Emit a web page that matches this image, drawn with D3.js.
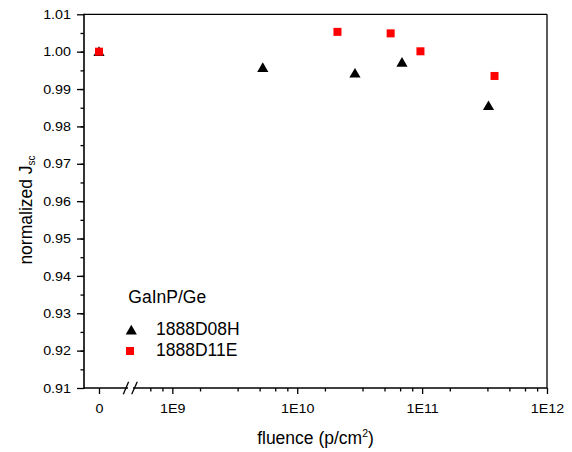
<!DOCTYPE html>
<html><head><meta charset="utf-8">
<script src="https://cdn.jsdelivr.net/npm/d3@7/dist/d3.min.js"></script>
<style>
body{margin:0;background:#fff;}
text{font-family:"Liberation Sans",Arial,sans-serif;fill:#000;}
</style></head>
<body>
<svg id="chart" width="572" height="452"></svg>
<script>
// ---- data ----
const seriesNames = ["1888D08H", "1888D11E"];
const legendTitle = "GaInP/Ge";
const fluenceD08H = [0, 5.3e9, 2.9e10, 6.9e10, 3.4e11];
const jscD08H     = [1.000, 0.9957, 0.9942, 0.9971, 0.9855];
const fluenceD11E = [0, 2.1e10, 5.6e10, 9.7e10, 3.8e11];
const jscD11E     = [1.000, 1.0053, 1.0049, 1.0001, 0.9935];
const yTicks = [0.91,0.92,0.93,0.94,0.95,0.96,0.97,0.98,0.99,1.00,1.01];
const xLogTicks = [1e9, 1e10, 1e11, 1e12];
const xZeroTicks = [0];
const xTickLabels = ["1E9", "1E10", "1E11", "1E12"];

// ---- layout ----
const L = 84, R = 547, T = 14.3, B = 388;
const brk0 = 128, brk1 = 133;
const SX = 1.1; // horizontal stretch of tick labels
const svg = d3.select("#chart");

const y = d3.scaleLinear().domain([0.91, 1.01]).range([B, T]);
const xLin = d3.scaleLinear().domain([-1, 2]).range([L, L + 45]);
const logStart = 10 ** (9 - (172.3 - brk1 + 0.5) / 124.8);
const xLog = d3.scaleLog().domain([logStart, 1e12]).range([brk1 - 0.5, R]);
const xPos = v => v <= 0 ? xLin(v) : xLog(v);

// y minor ticks
const yMinor = d3.range(0, 20).map(i => 0.915 + i * 0.005).filter(v => v < 1.01);
svg.append("g").attr("transform", `translate(${L},0)`)
  .call(d3.axisLeft(y).tickValues(yMinor).tickSize(3.5).tickFormat(""))
  .call(g => g.select(".domain").remove())
  .selectAll("line").attr("stroke-width", 1.3);
const gy = svg.append("g").attr("transform", `translate(${L},0)`)
  .call(d3.axisLeft(y).tickValues(yTicks).tickSize(7).tickPadding(6).tickFormat(d3.format(".2f")))
  .call(g => g.select(".domain").remove());
gy.selectAll("line").attr("stroke-width", 1.3);
gy.selectAll("text").attr("font-size", 13).attr("font-family", "Liberation Sans")
  .attr("x", -13 / SX).attr("transform", `scale(${SX},1)`);

// x minor ticks (Origin style, 5 linear minors per decade)
const xMinor = [];
for (let e = 8; e < 12; e++) for (let k = 1; k <= 5; k++) {
  const v = 10 ** e * k * 10 / 6;
  if (v > 6e8 && v < 1e12) xMinor.push(v);
}
svg.append("g").attr("transform", `translate(0,${B})`)
  .call(d3.axisBottom(xLog).tickValues(xMinor).tickSize(3.5).tickFormat(""))
  .call(g => g.select(".domain").remove())
  .selectAll("line").attr("stroke-width", 1.3);
const gx = svg.append("g").attr("transform", `translate(0,${B})`)
  .call(d3.axisBottom(xLog).tickValues(xLogTicks).tickSize(6).tickPadding(9.5)
    .tickFormat((d, i) => xTickLabels[i]))
  .call(g => g.select(".domain").remove());
const gx0 = svg.append("g").attr("transform", `translate(0,${B})`)
  .call(d3.axisBottom(xLin).tickValues(xZeroTicks).tickSize(6).tickPadding(9.5).tickFormat(d3.format("d")))
  .call(g => g.select(".domain").remove());
[gx, gx0].forEach(g => {
  g.selectAll("line").attr("stroke-width", 1.3);
  g.selectAll("text").attr("font-size", 13).attr("font-family", "Liberation Sans")
    .attr("transform", `scale(${SX},1)`);
});

// frame
svg.append("line").attr("x1", L).attr("x2", R).attr("y1", T).attr("y2", T).attr("stroke", "#000").attr("stroke-width", 1.3);
svg.append("line").attr("x1", R).attr("x2", R).attr("y1", T).attr("y2", B).attr("stroke", "#000").attr("stroke-width", 1.3);
svg.append("line").attr("x1", L).attr("x2", L).attr("y1", T - 0.6).attr("y2", B + 0.7).attr("stroke", "#000").attr("stroke-width", 1.6);
svg.append("line").attr("x1", L).attr("x2", brk0).attr("y1", B).attr("y2", B).attr("stroke", "#000").attr("stroke-width", 1.6);
svg.append("line").attr("x1", brk1).attr("x2", R).attr("y1", B).attr("y2", B).attr("stroke", "#000").attr("stroke-width", 1.6);
// break marks
[[123.3, 128.6], [131.7, 137.3]].forEach(([x0, x1]) => {
  svg.append("line").attr("x1", x0).attr("y1", 394.3).attr("x2", x1).attr("y2", 381.7)
    .attr("stroke", "#000").attr("stroke-width", 1.3);
});

// axis titles
const xt = svg.append("text").attr("x", (L + R) / 2).attr("y", 444).attr("text-anchor", "middle")
  .attr("font-size", 17.5);
xt.append("tspan").text("fluence (p/cm");
xt.append("tspan").attr("font-size", 10.5).attr("dy", -7).text("2");
xt.append("tspan").attr("dy", 7).text(")");

const yt = svg.append("text").attr("transform", "translate(32,210) rotate(-90)").attr("text-anchor", "middle")
  .attr("font-size", 17.5);
yt.append("tspan").text("normalized J");
yt.append("tspan").attr("font-size", 10).attr("dy", 3).text("sc");

// markers
const tri = d3.symbol().type(d3.symbolTriangle).size(54);
const dataTri = fluenceD08H.map((f, i) => ({f, v: jscD08H[i]}));
const dataSq = fluenceD11E.map((f, i) => ({f, v: jscD11E[i]}));
svg.append("g").selectAll("path").data(dataTri).join("path")
  .attr("d", tri).attr("fill", "#000")
  .attr("transform", d => `translate(${xPos(d.f)},${y(d.v) + 1})`);
svg.append("g").selectAll("rect").data(dataSq).join("rect")
  .attr("x", d => xPos(d.f) - 4).attr("y", d => y(d.v) - 4)
  .attr("width", 8).attr("height", 8).attr("fill", "#ff0000");

// legend
svg.append("text").attr("x", 128.3).attr("y", 302.7).attr("font-size", 17.5).text(legendTitle);
svg.append("path").attr("d", tri).attr("fill", "#000").attr("transform", "translate(131.3,331.3)");
svg.append("text").attr("x", 156).attr("y", 335).attr("font-size", 17.5).text(seriesNames[0]);
svg.append("rect").attr("x", 126).attr("y", 347).attr("width", 8).attr("height", 8).attr("fill", "#ff0000");
svg.append("text").attr("x", 156).attr("y", 356).attr("font-size", 17.5).text(seriesNames[1]);
</script>
</body></html>
